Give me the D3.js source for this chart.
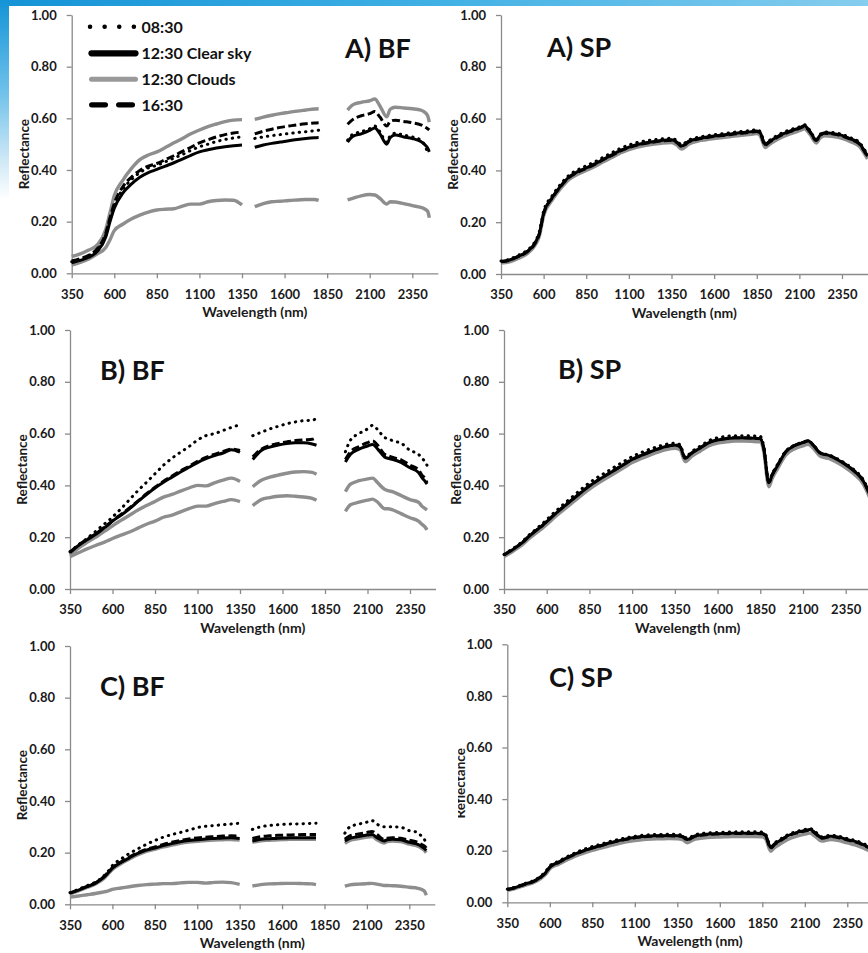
<!DOCTYPE html>
<html>
<head>
<meta charset="utf-8">
<script src="https://cdn.jsdelivr.net/npm/d3@7"></script>
<style>
  html, body { margin: 0; padding: 0; background: #fff; }
  svg { display: block; font-family: Lato, "Open Sans", sans-serif; }
</style>
</head>
<body>
<svg id="chart" width="868" height="953"></svg>
<script>
// ---------- wavelengths (nm) ----------
// BF spectra have the 1350-1425 and 1800-1970 water bands removed (null = gap)
const wlBF = [350,400,450,500,550,575,600,650,700,750,800,850,900,950,1000,1050,1100,1150,1200,1250,1300,1350,
  1390,
  1425,1475,1525,1575,1625,1675,1725,1775,1800,
  1885,
  1970,2000,2050,2100,2130,2160,2200,2220,2250,2300,2350,2400,2420,2440,2450];
const wlSP = [350,400,450,500,550,575,600,650,700,750,800,850,900,950,1000,1050,1100,1150,1200,1250,
  1300,1350,1380,1410,1450,1500,1550,1600,1650,1700,1750,1800,1850,1870,1900,1920,1950,2000,2050,2100,
  2130,2160,2200,2220,2250,2300,2350,2400,2450,2500];

// ---------- axis ticks ----------
const xTicks = [350,600,850,1100,1350,1600,1850,2100,2350];
const yTicks = [0,0.2,0.4,0.6,0.8,1.0];

// ---------- legend ----------
const legendLabels = ["08:30","12:30 Clear sky","12:30 Clouds","16:30"];

// ---------- A) BF ----------
const A_BF_0830 = [0.045,0.054,0.068,0.092,0.15,0.21,0.262,0.325,0.362,0.39,0.408,0.418,0.432,0.446,0.46,0.476,0.49,0.5,0.51,0.518,0.524,0.528,
  null,0.522,0.528,0.533,0.537,0.541,0.545,0.548,0.552,0.554,
  null,0.515,0.538,0.548,0.56,0.57,0.548,0.507,0.532,0.542,0.535,0.528,0.515,0.5,0.47,0.46];
const A_BF_1230 = [0.041,0.05,0.062,0.085,0.14,0.2,0.252,0.31,0.345,0.372,0.39,0.402,0.415,0.428,0.442,0.457,0.47,0.478,0.485,0.49,0.494,0.497,
  null,0.488,0.497,0.503,0.508,0.513,0.518,0.522,0.525,0.526,
  null,0.508,0.53,0.54,0.553,0.563,0.54,0.5,0.525,0.535,0.528,0.522,0.51,0.5,0.485,0.47];
const A_BF_1630 = [0.048,0.057,0.07,0.095,0.155,0.215,0.27,0.335,0.372,0.398,0.415,0.425,0.44,0.455,0.472,0.488,0.505,0.517,0.528,0.537,0.543,0.547,
  null,0.54,0.55,0.558,0.565,0.57,0.575,0.579,0.582,0.583,
  null,0.577,0.595,0.61,0.618,0.626,0.605,0.57,0.588,0.593,0.588,0.583,0.575,0.568,0.56,0.555];
const A_BF_cloudA = [0.065,0.075,0.09,0.11,0.17,0.235,0.3,0.36,0.405,0.44,0.458,0.47,0.487,0.505,0.522,0.54,0.555,0.568,0.578,0.587,0.593,0.595,
  null,0.596,0.605,0.612,0.618,0.623,0.628,0.632,0.636,0.637,
  null,0.632,0.652,0.662,0.668,0.675,0.648,0.606,0.635,0.643,0.64,0.637,0.632,0.625,0.61,0.585];
const A_BF_cloudB = [0.032,0.042,0.055,0.075,0.1,0.13,0.165,0.19,0.21,0.225,0.237,0.245,0.248,0.25,0.26,0.268,0.268,0.277,0.282,0.284,0.283,0.265,
  null,0.258,0.27,0.277,0.279,0.282,0.284,0.286,0.286,0.282,
  null,0.284,0.29,0.3,0.305,0.303,0.29,0.268,0.277,0.276,0.27,0.262,0.255,0.25,0.24,0.215];

// ---------- B) BF ----------
const B_BF_0830 = [0.144,0.17,0.195,0.222,0.25,0.263,0.278,0.31,0.345,0.38,0.412,0.445,0.478,0.505,0.528,0.55,0.575,0.592,0.6,0.612,0.624,0.634,
  null,0.592,0.605,0.618,0.628,0.638,0.645,0.65,0.652,0.658,
  null,0.53,0.575,0.6,0.618,0.632,0.615,0.585,0.58,0.572,0.562,0.535,0.52,0.505,0.49,0.478];
const B_BF_1230 = [0.14,0.168,0.19,0.21,0.235,0.248,0.262,0.285,0.31,0.338,0.365,0.39,0.412,0.432,0.452,0.47,0.488,0.503,0.515,0.525,0.538,0.528,
  null,0.5,0.535,0.548,0.556,0.562,0.565,0.565,0.56,0.555,
  null,0.49,0.52,0.54,0.552,0.558,0.54,0.51,0.505,0.5,0.488,0.468,0.45,0.43,0.415,0.405];
const B_BF_1630 = [0.142,0.17,0.192,0.213,0.238,0.25,0.264,0.288,0.313,0.34,0.368,0.393,0.416,0.436,0.456,0.474,0.493,0.508,0.52,0.531,0.54,0.535,
  null,0.51,0.54,0.554,0.562,0.568,0.573,0.576,0.578,0.585,
  null,0.5,0.53,0.55,0.565,0.572,0.555,0.52,0.515,0.508,0.498,0.478,0.46,0.44,0.425,0.41];
const B_BF_cloudA = [0.131,0.158,0.18,0.2,0.222,0.232,0.244,0.265,0.285,0.305,0.322,0.338,0.355,0.365,0.378,0.39,0.4,0.398,0.41,0.42,0.428,0.415,
  null,0.395,0.42,0.432,0.44,0.447,0.452,0.453,0.45,0.443,
  null,0.376,0.405,0.418,0.425,0.428,0.41,0.385,0.38,0.375,0.36,0.345,0.335,0.32,0.31,0.305];
const B_BF_cloudB = [0.125,0.14,0.155,0.168,0.18,0.187,0.195,0.208,0.22,0.235,0.25,0.262,0.277,0.285,0.298,0.31,0.32,0.32,0.33,0.338,0.345,0.337,
  null,0.322,0.345,0.353,0.358,0.36,0.358,0.355,0.35,0.343,
  null,0.3,0.325,0.335,0.343,0.347,0.335,0.31,0.31,0.305,0.29,0.275,0.262,0.25,0.238,0.228];

// ---------- C) BF ----------
const C_BF_0830 = [0.045,0.058,0.072,0.086,0.11,0.128,0.15,0.175,0.197,0.215,0.232,0.247,0.26,0.27,0.278,0.287,0.297,0.302,0.305,0.308,0.311,0.314,
  null,0.29,0.3,0.305,0.308,0.31,0.311,0.312,0.313,0.314,
  null,0.275,0.3,0.31,0.318,0.324,0.31,0.3,0.3,0.3,0.298,0.285,0.278,0.265,0.25,0.236];
const C_BF_1230 = [0.043,0.055,0.068,0.082,0.105,0.122,0.14,0.162,0.18,0.197,0.21,0.218,0.227,0.235,0.242,0.247,0.25,0.253,0.255,0.257,0.258,0.255,
  null,0.245,0.252,0.254,0.256,0.257,0.258,0.258,0.258,0.258,
  null,0.245,0.255,0.262,0.268,0.27,0.258,0.245,0.25,0.252,0.25,0.24,0.232,0.225,0.215,0.208];
const C_BF_1630 = [0.044,0.056,0.069,0.083,0.107,0.124,0.142,0.164,0.183,0.2,0.213,0.222,0.232,0.24,0.247,0.253,0.257,0.26,0.262,0.264,0.265,0.263,
  null,0.255,0.262,0.265,0.267,0.268,0.269,0.27,0.27,0.27,
  null,0.252,0.265,0.272,0.278,0.282,0.27,0.252,0.256,0.258,0.256,0.248,0.24,0.232,0.225,0.218];
const C_BF_cloudA = [0.04,0.052,0.065,0.079,0.1,0.117,0.135,0.157,0.175,0.192,0.205,0.213,0.222,0.229,0.236,0.241,0.244,0.247,0.249,0.25,0.251,0.249,
  null,0.24,0.246,0.248,0.25,0.251,0.252,0.252,0.252,0.252,
  null,0.236,0.247,0.254,0.26,0.262,0.25,0.237,0.243,0.245,0.243,0.233,0.225,0.218,0.208,0.2];
const C_BF_cloudB = [0.028,0.032,0.037,0.042,0.048,0.052,0.058,0.063,0.068,0.073,0.076,0.078,0.08,0.08,0.083,0.085,0.085,0.082,0.085,0.086,0.084,0.077,
  null,0.071,0.076,0.079,0.08,0.081,0.081,0.08,0.079,0.076,
  null,0.07,0.075,0.078,0.08,0.081,0.078,0.073,0.073,0.072,0.07,0.066,0.062,0.058,0.05,0.035];

// ---------- A) SP ----------
const A_SP_0830 = [0.05,0.057,0.072,0.09,0.126,0.163,0.242,0.302,0.347,0.382,0.402,0.418,0.433,0.451,0.468,0.485,0.498,0.508,0.514,0.519,
  0.522,0.524,0.516,0.499,0.517,0.527,0.533,0.538,0.542,0.546,0.55,0.553,0.557,0.55,0.505,0.514,0.527,0.545,0.558,0.568,
  0.576,0.556,0.52,0.538,0.548,0.546,0.539,0.526,0.509,0.46];
const A_SP_1230 = [0.048,0.054,0.068,0.085,0.12,0.157,0.235,0.295,0.34,0.375,0.395,0.41,0.425,0.443,0.46,0.477,0.49,0.5,0.507,0.512,
  0.516,0.518,0.51,0.494,0.512,0.522,0.528,0.533,0.537,0.541,0.545,0.548,0.552,0.545,0.5,0.51,0.522,0.54,0.553,0.564,
  0.572,0.552,0.517,0.535,0.545,0.542,0.535,0.522,0.505,0.455];
const A_SP_1630 = [0.047,0.053,0.067,0.084,0.119,0.155,0.233,0.293,0.338,0.373,0.393,0.408,0.423,0.441,0.458,0.475,0.488,0.498,0.505,0.51,
  0.514,0.516,0.508,0.492,0.51,0.52,0.526,0.531,0.535,0.539,0.543,0.546,0.55,0.543,0.497,0.507,0.52,0.538,0.551,0.562,
  0.57,0.55,0.515,0.533,0.543,0.54,0.533,0.52,0.503,0.452];
const A_SP_cloud = [0.042,0.047,0.06,0.077,0.111,0.147,0.225,0.285,0.33,0.365,0.385,0.4,0.415,0.433,0.45,0.467,0.48,0.49,0.497,0.502,
  0.506,0.508,0.499,0.482,0.501,0.512,0.518,0.523,0.527,0.531,0.535,0.538,0.542,0.534,0.488,0.498,0.511,0.529,0.542,0.553,
  0.561,0.541,0.506,0.524,0.534,0.531,0.524,0.511,0.494,0.444];

// ---------- B) SP ----------
const B_SP_0830 = [0.133,0.155,0.179,0.21,0.238,0.252,0.268,0.299,0.328,0.356,0.384,0.41,0.432,0.452,0.472,0.492,0.511,0.526,0.539,0.55,
  0.559,0.563,0.557,0.51,0.531,0.552,0.573,0.584,0.589,0.592,0.592,0.591,0.589,0.553,0.415,0.445,0.48,0.533,0.555,0.567,
  0.572,0.557,0.527,0.522,0.518,0.503,0.484,0.46,0.425,0.355];
const B_SP_1230 = [0.131,0.152,0.175,0.205,0.232,0.245,0.26,0.29,0.318,0.345,0.372,0.398,0.42,0.44,0.46,0.48,0.5,0.515,0.528,0.54,
  0.55,0.555,0.55,0.505,0.525,0.545,0.565,0.575,0.58,0.583,0.583,0.582,0.58,0.545,0.41,0.44,0.475,0.53,0.553,0.565,
  0.571,0.555,0.525,0.52,0.516,0.5,0.48,0.455,0.42,0.35];
const B_SP_1630 = [0.132,0.153,0.176,0.206,0.233,0.246,0.261,0.291,0.319,0.346,0.373,0.399,0.421,0.441,0.461,0.481,0.501,0.516,0.529,0.541,
  0.551,0.556,0.551,0.506,0.526,0.546,0.566,0.576,0.581,0.584,0.584,0.583,0.581,0.546,0.412,0.442,0.477,0.531,0.554,0.566,
  0.572,0.556,0.526,0.521,0.517,0.501,0.481,0.456,0.421,0.352];
const B_SP_cloud = [0.125,0.145,0.167,0.196,0.222,0.235,0.249,0.279,0.306,0.333,0.36,0.386,0.408,0.428,0.448,0.468,0.488,0.503,0.516,0.528,
  0.538,0.543,0.538,0.492,0.513,0.533,0.553,0.563,0.568,0.571,0.571,0.57,0.568,0.532,0.395,0.427,0.463,0.518,0.541,0.553,
  0.559,0.543,0.513,0.508,0.504,0.488,0.468,0.443,0.408,0.338];

// ---------- C) SP ----------
const C_SP_0830 = [0.051,0.06,0.072,0.083,0.103,0.119,0.141,0.159,0.176,0.192,0.205,0.216,0.225,0.235,0.243,0.25,0.256,0.26,0.262,0.263,
  0.264,0.263,0.26,0.248,0.261,0.267,0.27,0.271,0.272,0.273,0.273,0.273,0.272,0.263,0.216,0.229,0.242,0.262,0.274,0.282,
  0.286,0.274,0.254,0.256,0.26,0.256,0.247,0.239,0.226,0.208];
const C_SP_1230 = [0.05,0.058,0.07,0.08,0.1,0.115,0.137,0.155,0.172,0.188,0.2,0.211,0.22,0.23,0.238,0.245,0.251,0.255,0.257,0.258,
  0.259,0.258,0.255,0.243,0.256,0.262,0.265,0.266,0.267,0.268,0.268,0.268,0.267,0.258,0.212,0.225,0.238,0.258,0.27,0.278,
  0.282,0.27,0.25,0.252,0.256,0.252,0.243,0.235,0.222,0.205];
const C_SP_1630 = [0.049,0.057,0.069,0.079,0.099,0.114,0.136,0.154,0.171,0.187,0.199,0.21,0.219,0.229,0.237,0.244,0.25,0.254,0.256,0.257,
  0.258,0.257,0.254,0.242,0.255,0.261,0.264,0.265,0.266,0.267,0.267,0.267,0.266,0.257,0.21,0.223,0.236,0.256,0.268,0.276,
  0.28,0.268,0.248,0.25,0.254,0.25,0.241,0.233,0.22,0.203];
const C_SP_cloud = [0.046,0.054,0.065,0.075,0.094,0.108,0.13,0.147,0.164,0.179,0.191,0.201,0.21,0.219,0.227,0.234,0.239,0.243,0.245,0.246,
  0.247,0.246,0.243,0.231,0.244,0.249,0.252,0.253,0.254,0.255,0.255,0.255,0.254,0.245,0.198,0.211,0.224,0.244,0.256,0.264,
  0.268,0.256,0.237,0.239,0.243,0.239,0.23,0.222,0.209,0.192];

// ---------- line styles ----------
const styles = {
  cloud: { stroke: "#8e8e8e", width: 3.4, dash: null, cap: "butt" },
  clear: { stroke: "#000", width: 3, dash: null, cap: "butt" },
  late:  { stroke: "#000", width: 3, dash: "8 3.5", cap: "butt" },
  early: { stroke: "#000", width: 3, dash: "0.4 6", cap: "round" }
};

// panel frames: pixel of 350 nm, pixel of 2350 nm, pixel of 1.0, pixel of 0.0
const panels = [
  { title: "A) BF", wl: wlBF, x0: 71.7, x1: 412.3, yT: 15,    yB: 273.3, tx: 345, ty: 58,
    series: [["cloud", A_BF_cloudB], ["cloud", A_BF_cloudA], ["clear", A_BF_1230], ["late", A_BF_1630], ["early", A_BF_0830]] },
  { title: "A) SP", wl: wlSP, x0: 501,  x1: 842,   yT: 15,    yB: 274,   tx: 547, ty: 57,
    series: [["cloud", A_SP_cloud], ["clear", A_SP_1230], ["late", A_SP_1630], ["early", A_SP_0830]] },
  { title: "B) BF", wl: wlBF, x0: 70,   x1: 410,   yT: 330,   yB: 589,   tx: 100, ty: 380,
    series: [["cloud", B_BF_cloudB], ["cloud", B_BF_cloudA], ["clear", B_BF_1230], ["late", B_BF_1630], ["early", B_BF_0830]] },
  { title: "B) SP", wl: wlSP, x0: 504,  x1: 845.7, yT: 330,   yB: 589,   tx: 558, ty: 379,
    series: [["cloud", B_SP_cloud], ["clear", B_SP_1230], ["late", B_SP_1630], ["early", B_SP_0830]] },
  { title: "C) BF", wl: wlBF, x0: 70,   x1: 409.3, yT: 646,   yB: 904.3, tx: 100, ty: 696,
    series: [["cloud", C_BF_cloudB], ["cloud", C_BF_cloudA], ["clear", C_BF_1230], ["late", C_BF_1630], ["early", C_BF_0830]] },
  { title: "C) SP", wl: wlSP, x0: 507.3,x1: 847.3, yT: 644.3, yB: 902.3, tx: 549, ty: 687, clipLabel: 458,
    series: [["cloud", C_SP_cloud], ["clear", C_SP_1230], ["late", C_SP_1630], ["early", C_SP_0830]] }
];

const svg = d3.select("#chart");
const defs = svg.append("defs");

// slide backdrop: blue band on top and a fading strip on the left
const gTop = defs.append("linearGradient").attr("id", "bandTop").attr("x1", 0).attr("x2", 1).attr("y1", 0).attr("y2", 0);
gTop.append("stop").attr("offset", 0).attr("stop-color", "#1493d6");
gTop.append("stop").attr("offset", 0.5).attr("stop-color", "#3fb0e4");
gTop.append("stop").attr("offset", 1).attr("stop-color", "#86cdee");
const gLeft = defs.append("linearGradient").attr("id", "bandLeft").attr("x1", 0).attr("x2", 0).attr("y1", 0).attr("y2", 1);
gLeft.append("stop").attr("offset", 0).attr("stop-color", "#1493d6");
gLeft.append("stop").attr("offset", 0.45).attr("stop-color", "#6cc0ea");
gLeft.append("stop").attr("offset", 0.8).attr("stop-color", "#cfe8f6");
gLeft.append("stop").attr("offset", 1).attr("stop-color", "#ffffff");

svg.append("rect").attr("width", 868).attr("height", 953).attr("fill", "#fff");
svg.append("rect").attr("x", 0).attr("y", 0).attr("width", 868).attr("height", 6).attr("fill", "url(#bandTop)");
svg.append("rect").attr("x", 0).attr("y", 0).attr("width", 9).attr("height", 200).attr("fill", "url(#bandLeft)");

const axisColor = "#8a8a8a";
const textColor = "#1a1a1a";

panels.forEach((p, i) => {
  const xEnd = p.x0 + (p.x1 - p.x0) * (2500 - 350) / (2350 - 350);
  const x = d3.scaleLinear().domain([350, 2500]).range([p.x0, xEnd]);
  const y = d3.scaleLinear().domain([0, 1]).range([p.yB, p.yT]);
  const g = svg.append("g");

  // axes
  const yAxis = d3.axisLeft(y).tickValues(yTicks).tickFormat(d3.format(".2f"))
    .tickSize(5).tickSizeOuter(0).tickPadding(10);
  const xAxis = d3.axisBottom(x).tickValues(xTicks).tickFormat(d3.format("d"))
    .tickSize(5).tickSizeOuter(0).tickPadding(11);

  const gy = g.append("g").attr("transform", `translate(${p.x0},0)`).call(yAxis);
  const gx = g.append("g").attr("transform", `translate(0,${p.yB})`).call(xAxis);
  [gx, gy].forEach(a => {
    a.select(".domain").attr("stroke", axisColor).attr("stroke-width", 1.3);
    a.selectAll(".tick line").attr("stroke", axisColor).attr("stroke-width", 1.3);
    a.selectAll(".tick text").attr("fill", textColor)
      .style("font-family", "Lato, 'Open Sans', sans-serif")
      .style("font-size", "13px").style("font-weight", "700");
  });

  // axis titles
  g.append("text")
    .attr("x", (p.x0 + xEnd) / 2).attr("y", p.yB + 44)
    .attr("text-anchor", "middle").attr("fill", textColor)
    .style("font-size", "14px").style("font-weight", "700")
    .text("Wavelength (nm)");

  // y title; the C) SP one is trimmed on its left side by the slide frame
  const ylHolder = g.append("g");
  if (p.clipLabel) {
    const cid = "lblClip" + i;
    defs.append("clipPath").attr("id", cid)
      .append("rect").attr("x", p.clipLabel).attr("y", p.yT).attr("width", 60).attr("height", p.yB - p.yT);
    ylHolder.attr("clip-path", `url(#${cid})`);
  }
  ylHolder.append("text")
    .attr("transform", `translate(${p.x0 - 47.5},${(p.yT + p.yB) / 2 + 10}) rotate(-90)`)
    .attr("text-anchor", "middle").attr("dy", "0.35em").attr("fill", textColor)
    .style("font-size", "13.5px").style("font-weight", "700")
    .text("Reflectance");

  // spectra
  p.series.forEach(([kind, vals]) => {
    const st = styles[kind];
    const pts = p.wl.map((w, k) => ({ w, v: vals[k] }));
    const line = d3.line()
      .defined(d => d.v != null)
      .x(d => x(d.w)).y(d => y(d.v))
      .curve(d3.curveMonotoneX);
    g.append("path").datum(pts)
      .attr("d", line)
      .attr("fill", "none")
      .attr("stroke", st.stroke)
      .attr("stroke-width", st.width)
      .attr("stroke-linejoin", "round")
      .attr("stroke-linecap", st.cap)
      .attr("stroke-dasharray", st.dash);
  });

  // panel title
  g.append("text").attr("x", p.tx).attr("y", p.ty)
    .attr("fill", "#111").style("font-size", "27px").style("font-weight", "700")
    .text(p.title);
});

// legend (inside A) BF)
const legendStyles = [
  { stroke: "#000", width: 4.5, dash: "0.1 14.5", cap: "round", x1: 90, x2: 134 },
  { stroke: "#000", width: 6.2, dash: null, cap: "round", x1: 91.5, x2: 135.5 },
  { stroke: "#999", width: 5, dash: null, cap: "round", x1: 91.5, x2: 135.5 },
  { stroke: "#000", width: 5.3, dash: "13.7 13.3", cap: "round", x1: 91.7, x2: 133 }
];
const legendY = [26.7, 53.3, 79.3, 104.8];
const lg = svg.append("g");
legendLabels.forEach((lab, k) => {
  const s = legendStyles[k];
  lg.append("line")
    .attr("x1", s.x1).attr("x2", s.x2).attr("y1", legendY[k]).attr("y2", legendY[k])
    .attr("stroke", s.stroke).attr("stroke-width", s.width)
    .attr("stroke-linecap", s.cap).attr("stroke-dasharray", s.dash);
  lg.append("text").attr("x", 141.5).attr("y", legendY[k] + 6)
    .attr("fill", "#111").style("font-size", "16px").style("font-weight", "700")
    .text(lab);
});
</script>
</body>
</html>
